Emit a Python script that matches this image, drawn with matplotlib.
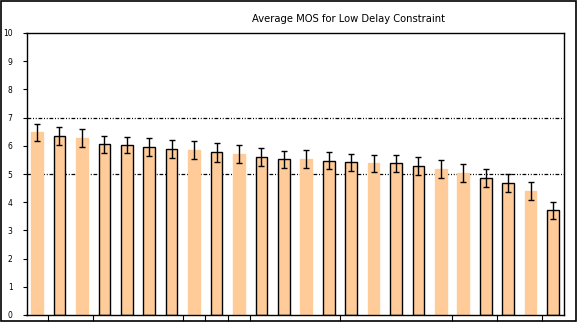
import matplotlib.pyplot as plt
import numpy as np
from matplotlib.patches import Rectangle

# Average MOS per condition
mos = [6.48, 6.34, 6.28, 6.06, 6.03, 5.95, 5.87, 5.85, 5.77, 5.71, 5.59, 5.52,
       5.52, 5.47, 5.41, 5.38, 5.38, 5.27, 5.18, 5.04, 4.85, 4.67, 4.40, 3.71]
err = [0.31, 0.32, 0.32, 0.30, 0.29, 0.32, 0.32, 0.32, 0.33, 0.31, 0.32, 0.31,
       0.32, 0.31, 0.31, 0.31, 0.31, 0.32, 0.32, 0.31, 0.32, 0.32, 0.31, 0.31]
# which bars were drawn with a black outline in the original
outlined = [0, 1, 0, 1, 1, 1, 1, 0, 1, 0, 1, 1, 0, 1, 1, 0, 1, 1, 0, 0, 1, 1, 0, 1]
ref_levels = [5, 7]
y_ticks = list(range(0, 11))
x_tick_pos = [0.5, 2.5, 6.5, 7.5, 8.5, 9.5, 13.5, 18.5, 20.5, 22.5]
title = "Average MOS for Low Delay Constraint"

W, H, DPI = 577, 322, 100

fig = plt.figure(figsize=(W / DPI, H / DPI), dpi=DPI)
fig.patches.append(Rectangle((0.001, 0.002), 0.997, 0.996, transform=fig.transFigure,
                             fill=False, edgecolor="black", linewidth=1.2))
ax = fig.add_axes([26.5 / W, 1 - 315 / H, (564 - 26.5) / W, (315 - 33) / H])

x = np.arange(len(mos))
dash = (0, (3, 1.4, 0.8, 1.4, 0.8, 1.4))
for level in ref_levels:
    ax.axhline(level, color="black", linewidth=0.9, linestyle=dash, zorder=1)

ax.bar(x, mos, width=0.52, color="#FFCC99",
       edgecolor=["black" if o else "#FFCC99" for o in outlined],
       linewidth=1.0, zorder=2)
ax.errorbar(x, mos, yerr=err, fmt="none", ecolor="black", elinewidth=1.0,
            capsize=2.0, capthick=1.0, zorder=3)

ax.set_xlim(-0.47, len(mos) - 0.51)
ax.set_ylim(0, 10)
ax.set_yticks(y_ticks)
ax.set_xticks(x_tick_pos)
ax.set_xticklabels([])
ax.tick_params(axis="y", labelsize=5.5, length=3, width=0.8, pad=7)
ax.tick_params(axis="x", length=4, width=0.8)
for s in ax.spines.values():
    s.set_linewidth(1.0)

fig.text(348 / W, 1 - 19 / H, title, ha="center", va="center", fontsize=7.2)

fig.savefig("out.png", dpi=DPI)
